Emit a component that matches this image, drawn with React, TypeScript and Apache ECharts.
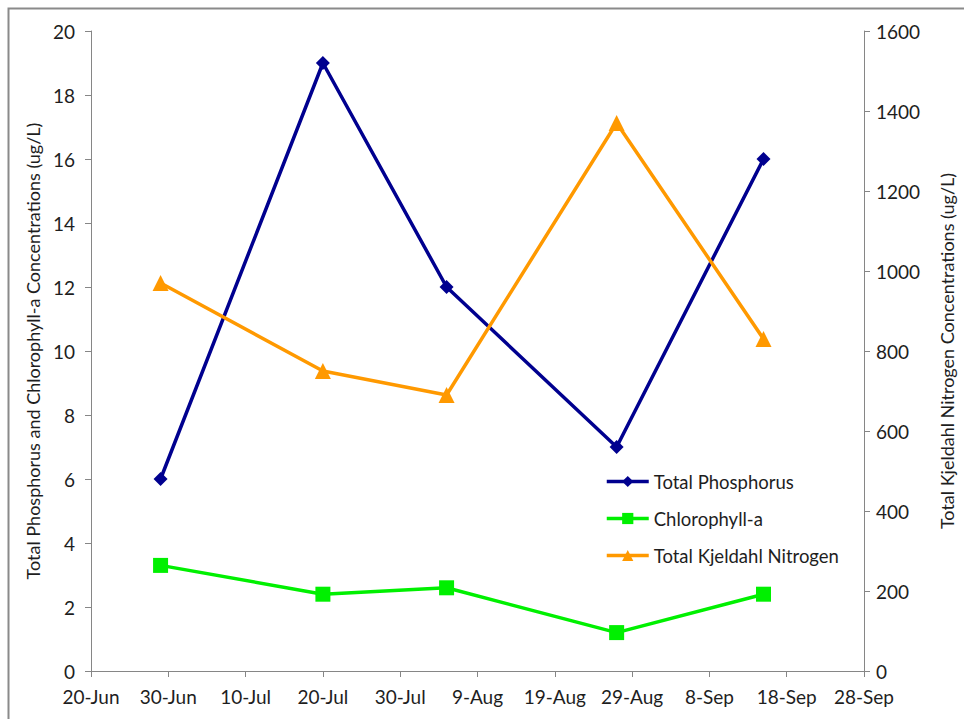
import React, { useEffect, useRef } from "react";
import * as echarts from "echarts";

const startDate = "2013-06-20";
const sampleDates = ["2013-06-29", "2013-07-20", "2013-08-05", "2013-08-27", "2013-09-15"];
const totalPhosphorus = [6, 19, 12, 7, 16];
const chlorophyllA = [3.3, 2.4, 2.6, 1.2, 2.4];
const totalKjeldahlNitrogen = [970, 750, 690, 1370, 830];
const monthNames = ["Jan", "Feb", "Mar", "Apr", "May", "Jun", "Jul", "Aug", "Sep", "Oct", "Nov", "Dec"];

const DAY = 86400000;
const t0 = Date.parse(startDate + "T00:00:00Z");
const dayOffset = (d: string) => Math.round((Date.parse(d + "T00:00:00Z") - t0) / DAY);
const labelFor = (off: number) => {
  const dt = new Date(t0 + off * DAY);
  return dt.getUTCDate() + "-" + monthNames[dt.getUTCMonth()];
};

const FONT = "Lato";
const AX = "#868686";
const TXT = "#1e1e1e";

export default function App() {
  const ref = useRef<HTMLDivElement>(null);
  useEffect(() => {
    if (!ref.current) return;
    const chart = echarts.init(ref.current, undefined, { renderer: "svg" });
    const xs = sampleDates.map(dayOffset);
    chart.setOption({
      animation: false,
      backgroundColor: "#fff",
      textStyle: { fontFamily: FONT },
      graphic: [
        {
          type: "rect",
          shape: { x: 8.5, y: 8.5, width: 1000, height: 1000 },
          style: { fill: "none", stroke: "#8a8a8a", lineWidth: 2 },
          silent: true,
        },
      ],
      grid: { left: 91, right: 96, top: 31, bottom: 48, containLabel: false },
      legend: {
        orient: "vertical",
        left: 605,
        top: 472,
        padding: 0,
        itemWidth: 42,
        itemHeight: 14,
        itemGap: 18,
        lineStyle: { width: 3.5 },
        textStyle: { fontFamily: FONT, fontSize: 18.5, color: TXT },
        data: ["Total Phosphorus", "Chlorophyll-a", "Total Kjeldahl Nitrogen"],
      },
      xAxis: {
        type: "value",
        min: 0,
        max: 100,
        interval: 10,
        splitLine: { show: false },
        axisLine: { show: true, onZero: false, lineStyle: { color: AX, width: 1 } },
        axisTick: { show: true, length: 6, lineStyle: { color: AX } },
        axisLabel: {
          formatter: (v: number) => labelFor(v),
          color: TXT,
          fontSize: 19,
          fontFamily: FONT,
          margin: 16,
        },
      },
      yAxis: [
        {
          type: "value",
          min: 0,
          max: 20,
          interval: 2,
          position: "left",
          splitLine: { show: false },
          axisLine: { show: true, lineStyle: { color: AX } },
          axisTick: { show: true, length: 6, lineStyle: { color: AX } },
          axisLabel: { color: TXT, fontSize: 19, fontFamily: FONT, margin: 16 },
          name: "Total Phosphorus and Chlorophyll-a Concentrations (ug/L)",
          nameLocation: "middle",
          nameRotate: 90,
          nameGap: 41,
          nameTextStyle: { color: TXT, fontSize: 18, fontFamily: FONT },
        },
        {
          type: "value",
          min: 0,
          max: 1600,
          interval: 200,
          position: "right",
          splitLine: { show: false },
          axisLine: { show: true, lineStyle: { color: AX } },
          axisTick: { show: true, length: 6, lineStyle: { color: AX } },
          axisLabel: { color: TXT, fontSize: 19, fontFamily: FONT, margin: 12, formatter: (v: number) => String(v) },
          name: "Total Kjeldahl Nitrogen Concentrations (ug/L)",
          nameLocation: "middle",
          nameRotate: 90,
          nameGap: 74,
          nameTextStyle: { color: TXT, fontSize: 18, fontFamily: FONT },
        },
      ],
      series: [
        {
          name: "Total Phosphorus",
          type: "line",
          yAxisIndex: 0,
          data: xs.map((x, i) => [x, totalPhosphorus[i]]),
          lineStyle: { color: "#00008f", width: 3.5 },
          itemStyle: { color: "#00008f" },
          symbol: "diamond",
          symbolSize: 14,
        },
        {
          name: "Chlorophyll-a",
          type: "line",
          yAxisIndex: 0,
          data: xs.map((x, i) => [x, chlorophyllA[i]]),
          lineStyle: { color: "#00f000", width: 3.5 },
          itemStyle: { color: "#00f000" },
          symbol: "rect",
          symbolSize: 15,
        },
        {
          name: "Total Kjeldahl Nitrogen",
          type: "line",
          yAxisIndex: 1,
          data: xs.map((x, i) => [x, totalKjeldahlNitrogen[i]]),
          lineStyle: { color: "#ff9900", width: 3.5 },
          itemStyle: { color: "#ff9900" },
          symbol: "triangle",
          symbolSize: 16,
        },
      ],
    });
    return () => chart.dispose();
  }, []);
  return <div ref={ref} style={{ width: 964, height: 719, position: "absolute", left: 0, top: 0 }} />;
}
